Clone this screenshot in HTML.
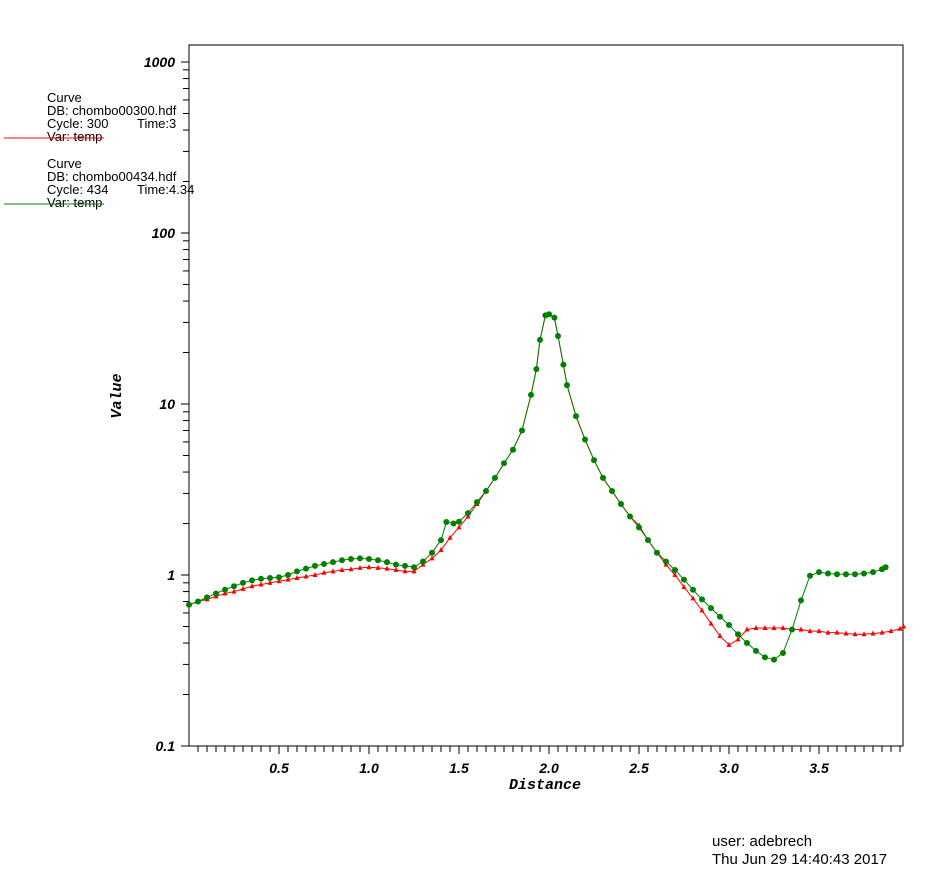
<!DOCTYPE html>
<html><head><meta charset="utf-8"><style>
body{margin:0;background:#fff;}
svg{display:block;}
.tk{font-family:"Liberation Sans",sans-serif;font-weight:bold;font-style:italic;font-size:14px;}
.lg{font-family:"Liberation Sans",sans-serif;font-size:13px;}
.ti{font-family:"Liberation Mono",monospace;font-weight:bold;font-style:italic;font-size:15px;}
</style></head><body>
<svg id="chart" width="950" height="878" xmlns="http://www.w3.org/2000/svg">
<g id="axes"></g>
<g id="series"></g>
<text class="ti" x="545" y="789" text-anchor="middle">Distance</text>
<text class="ti" x="121" y="396" text-anchor="middle" transform="rotate(-90 121 396)">Value</text>
<g>
<text class="lg" x="47" y="102">Curve</text>
<text class="lg" x="47" y="115">DB: chombo00300.hdf</text>
<text class="lg" x="47" y="128">Cycle: 300</text>
<text class="lg" x="137" y="128">Time:3</text>
<text class="lg" x="47" y="141">Var: temp</text>
<line x1="4" y1="138" x2="104" y2="138" stroke="#f00" stroke-width="1"/>
<text class="lg" x="47" y="168">Curve</text>
<text class="lg" x="47" y="181">DB: chombo00434.hdf</text>
<text class="lg" x="47" y="194">Cycle: 434</text>
<text class="lg" x="137" y="194">Time:4.34</text>
<text class="lg" x="47" y="207">Var: temp</text>
<line x1="4" y1="204" x2="104" y2="204" stroke="#008000" stroke-width="1"/>
</g>
<text class="lg" x="712" y="846" style="font-size:15px">user: adebrech</text>
<text class="lg" x="712" y="864" style="font-size:15px">Thu Jun 29 14:40:43 2017</text>
</svg>
<script>
const greenX=[0,0.05,0.1,0.15,0.2,0.25,0.3,0.35,0.4,0.45,0.5,0.55,0.6,0.65,0.7,0.75,0.8,0.85,0.9,0.95,1.0,1.05,1.1,1.15,1.2,1.25,1.3,1.35,1.4,1.43,1.47,1.5,1.55,1.6,1.65,1.7,1.75,1.8,1.85,1.9,1.93,1.95,1.98,2.0,2.03,2.05,2.08,2.1,2.15,2.2,2.25,2.3,2.35,2.4,2.45,2.5,2.55,2.6,2.65,2.7,2.75,2.8,2.85,2.9,2.95,3.0,3.05,3.1,3.15,3.2,3.25,3.3,3.35,3.4,3.45,3.5,3.55,3.6,3.65,3.7,3.75,3.8,3.85,3.87];
const greenY=[0.67,0.70,0.74,0.78,0.82,0.86,0.9,0.93,0.95,0.96,0.97,1.0,1.05,1.09,1.13,1.16,1.19,1.22,1.24,1.25,1.24,1.22,1.19,1.15,1.13,1.11,1.2,1.35,1.6,2.04,2.0,2.05,2.3,2.67,3.1,3.7,4.5,5.4,7.0,11.3,16,23.7,33,33.5,32,25,17,12.9,8.5,6.2,4.7,3.7,3.1,2.6,2.2,1.9,1.6,1.35,1.2,1.07,0.94,0.82,0.72,0.64,0.57,0.51,0.45,0.4,0.36,0.33,0.32,0.35,0.48,0.71,0.99,1.04,1.02,1.01,1.01,1.01,1.02,1.04,1.08,1.11];
const redX=[0,0.05,0.1,0.15,0.2,0.25,0.3,0.35,0.4,0.45,0.5,0.55,0.6,0.65,0.7,0.75,0.8,0.85,0.9,0.95,1.0,1.05,1.1,1.15,1.2,1.25,1.3,1.35,1.4,1.45,1.5,1.55,1.6,1.65,1.7,1.75,1.8,1.85,1.9,1.93,1.95,1.98,2.0,2.03,2.05,2.08,2.1,2.15,2.2,2.25,2.3,2.35,2.4,2.45,2.5,2.55,2.6,2.65,2.7,2.75,2.8,2.85,2.9,2.95,3.0,3.05,3.1,3.15,3.2,3.25,3.3,3.35,3.4,3.45,3.5,3.55,3.6,3.65,3.7,3.75,3.8,3.85,3.9,3.95,3.97];
const redY=[0.67,0.70,0.72,0.75,0.78,0.80,0.83,0.86,0.88,0.90,0.92,0.94,0.96,0.98,1.0,1.03,1.05,1.07,1.08,1.10,1.11,1.10,1.09,1.07,1.05,1.05,1.15,1.25,1.4,1.65,1.9,2.2,2.6,3.1,3.7,4.5,5.4,7.0,11.3,16,23.7,33,33.5,32,25,17,12.9,8.5,6.2,4.7,3.7,3.1,2.6,2.2,1.95,1.6,1.35,1.15,1.0,0.85,0.73,0.62,0.52,0.44,0.39,0.42,0.48,0.49,0.49,0.49,0.49,0.48,0.48,0.47,0.47,0.46,0.46,0.455,0.45,0.45,0.455,0.46,0.47,0.485,0.5];
const xTickLabels=["0.5","1.0","1.5","2.0","2.5","3.0","3.5"];
const yTickLabels=["0.1","1","10","100","1000"];

const NS="http://www.w3.org/2000/svg";
const L=189,R=903,T=45,B=746;
function sx(v){return L+v*180;}
function sy(v){return 575-171*Math.log10(v);}
function mk(tag,attrs,parent){const e=document.createElementNS(NS,tag);for(const k in attrs)e.setAttribute(k,attrs[k]);parent.appendChild(e);return e;}
const ax=document.getElementById('axes');
const fr=mk('rect',{x:L,y:T,width:R-L,height:B-T,fill:'none',stroke:'#000','stroke-width':1},ax);


for(let i=1;i*0.05<3.97;i++){const v=i*0.05;const major=i%10==0;
 const t=mk('line',{x1:sx(v),x2:sx(v),y1:B,y2:B+(major?8:6),stroke:'#000'},ax);
 
 }
xTickLabels.forEach(s=>{const t=mk('text',{x:sx(parseFloat(s)),y:B+27,'text-anchor':'middle',class:'tk'},ax);t.textContent=s;
 
 });
for(let d=-1;d<=3;d++){for(let m=1;m<10;m++){const v=m*Math.pow(10,d);const y=sy(v);if(y<T||y>B)continue;
 const t=mk('line',{x1:L-(m==1?8:6),x2:L,y1:y,y2:y,stroke:'#000'},ax);
 
 }}
yTickLabels.forEach(s=>{const t=mk('text',{x:L-14,y:sy(parseFloat(s))+5,'text-anchor':'end',class:'tk'},ax);t.textContent=s;
 
 });
const sg=document.getElementById('series');
function pts(X,Y){return X.map((x,i)=>sx(x)+','+sy(Y[i])).join(' ');}
const rl=mk('polyline',{points:pts(redX,redY),fill:'none',stroke:'#f00','stroke-width':1},sg);


redX.forEach((x,i)=>{const cx=sx(x),cy=sy(redY[i]);
 const p=mk('polygon',{points:`${cx},${cy-3} ${cx-2.5},${cy+2} ${cx+2.5},${cy+2}`,fill:'#f00'},sg);
 
 });
const gl=mk('polyline',{points:pts(greenX,greenY),fill:'none',stroke:'#008000','stroke-width':1},sg);


greenX.forEach((x,i)=>{const c=mk('circle',{cx:sx(x),cy:sy(greenY[i]),r:3,fill:'#008000'},sg);
 
 });
</script>
</body></html>
